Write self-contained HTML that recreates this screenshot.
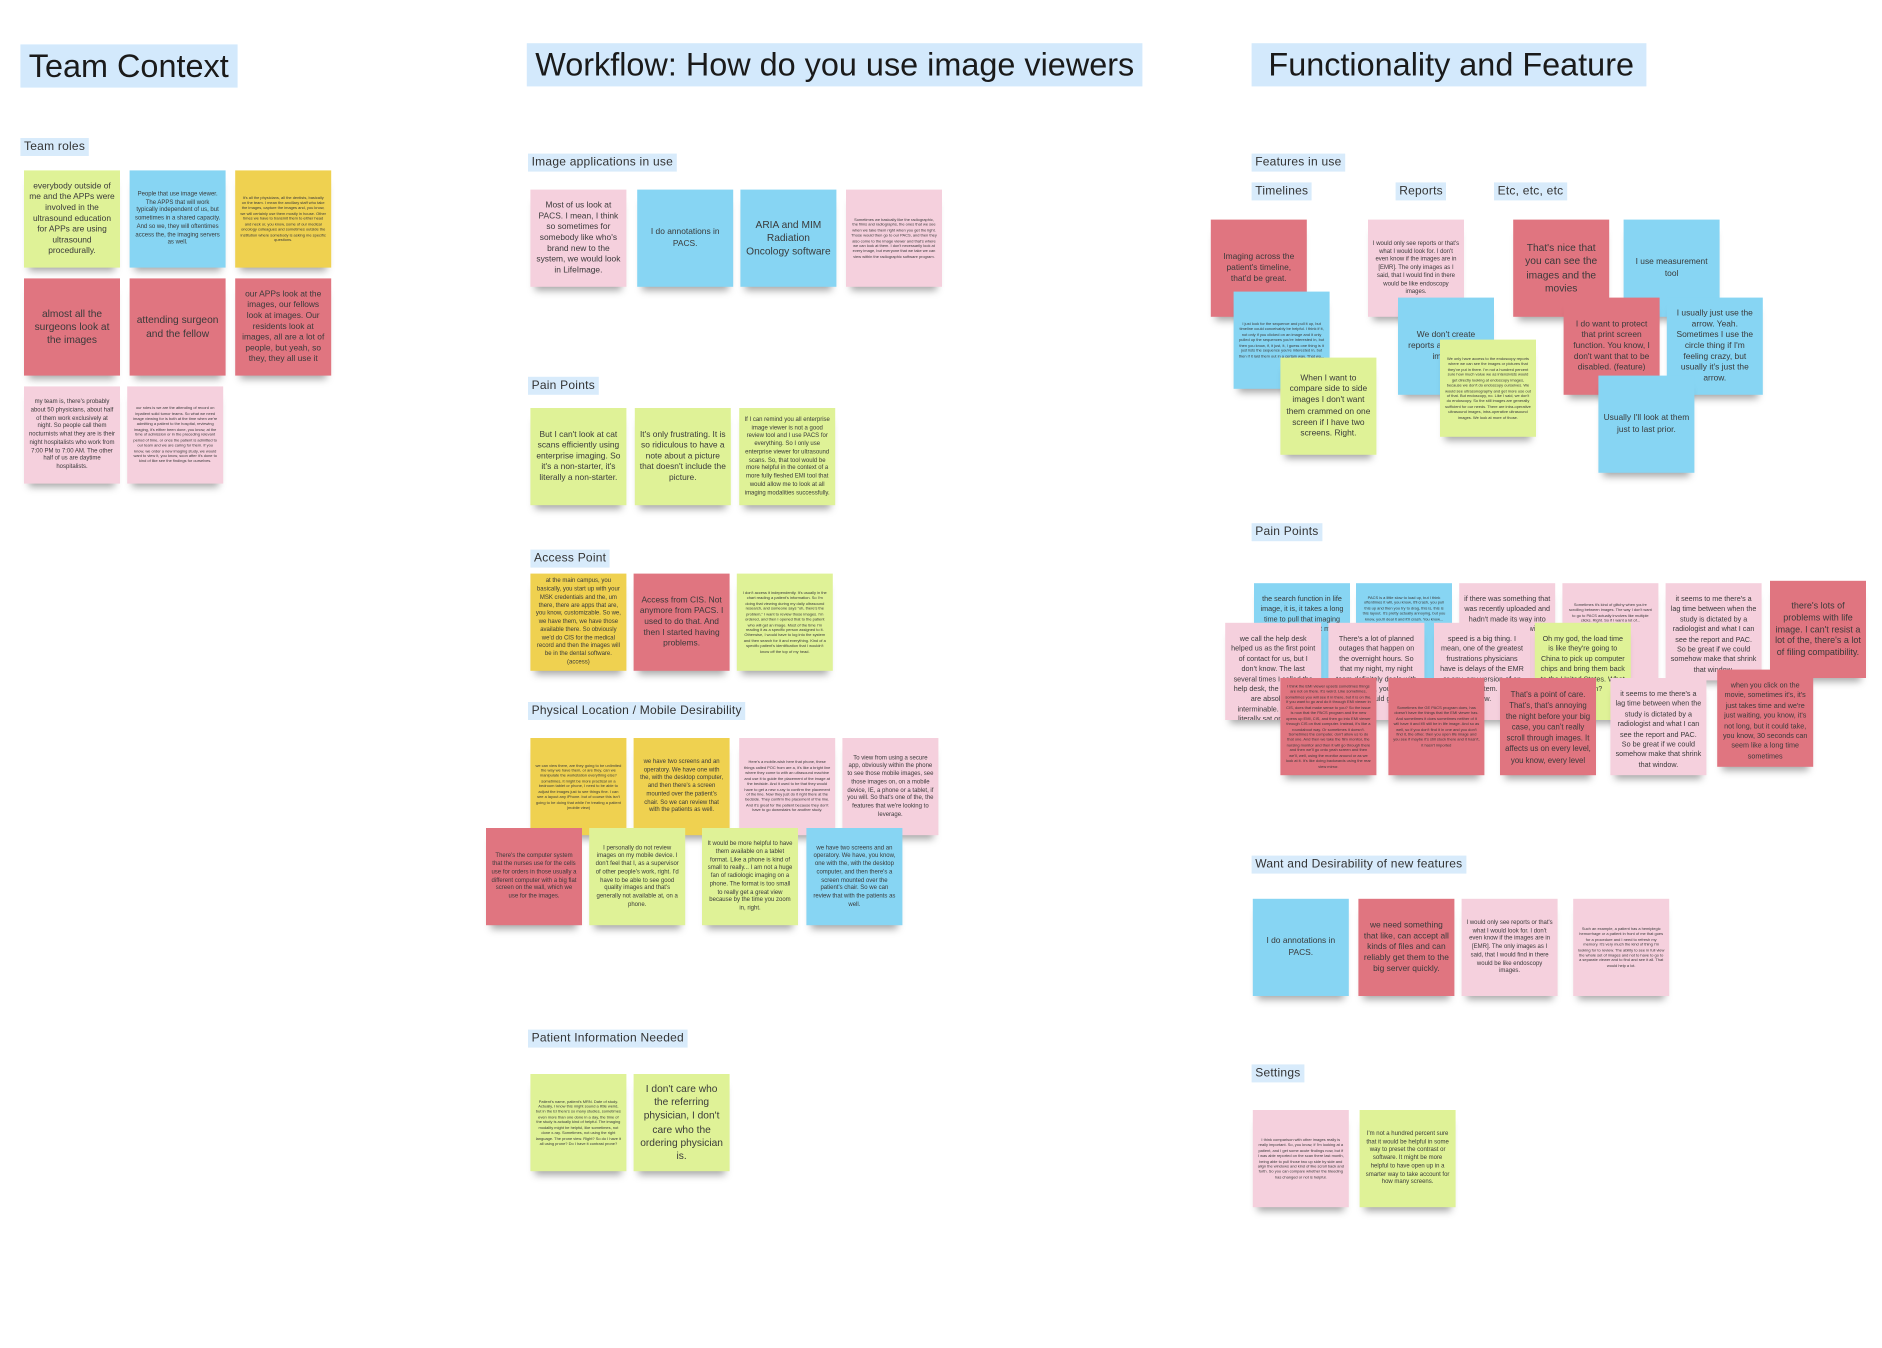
<!DOCTYPE html>
<html><head><meta charset="utf-8"><style>
html,body{margin:0;padding:0;background:#fff;width:1882px;height:1348px;overflow:hidden}
#w{position:absolute;left:0;top:0;width:1568px;height:1123px;transform:scale(1.2);transform-origin:0 0;font-family:"Liberation Sans","DejaVu Sans",sans-serif;color:#333}
.h{position:absolute;background:#d3e9fc;font-size:27px;color:#1a1a1a;padding:3px 7px;line-height:30px;white-space:nowrap}
.l{position:absolute;background:#d8ebfb;font-size:10px;letter-spacing:0.2px;color:#333;padding:1px 3px;line-height:13px;white-space:nowrap}
.n{position:absolute;width:80px;height:81px;display:flex;align-items:center;justify-content:center;text-align:center;font-size:7px;line-height:1.3;padding:4px;box-sizing:border-box;box-shadow:0 7px 6px -4px rgba(0,0,0,.35);overflow:hidden;color:#3a3a3a}
.t{font-size:3.3px;line-height:1.35}
.m{font-size:5px;line-height:1.35}
.b{font-size:8.5px;line-height:1.3}
.s{font-size:6px;line-height:1.4;align-items:flex-start;padding-top:10px}
.g{background:#dff297}.u{background:#87d5f3}.y{background:#efd150}.r{background:#e07580}.p{background:#f5d0dd}
</style></head><body><div id="w">
<div class="h" style="left:17px;top:37px">Team Context</div>
<div class="h" style="left:439px;top:36px">Workflow: How do you use image viewers</div>
<div class="h" style="left:1043px;top:36px;padding-left:14px;padding-right:10px">Functionality and Feature</div>

<div class="l" style="left:17px;top:115px">Team roles</div>
<div class="n g" style="left:20px;top:142px">everybody outside of me and the APPs were involved in the ultrasound education for APPs are using ultrasound procedurally.</div>
<div class="n u m" style="left:108px;top:142px">People that use image viewer. The APPS that will work typically independent of us, but sometimes in a shared capacity. And so we, they will oftentimes access the, the imaging servers as well.</div>
<div class="n y t" style="left:196px;top:142px">It's all the physicians, all the dentists, basically on the team. I mean the ancillary staff who take the images, capture the images and, you know, we will certainly use them mostly in house. Other times we have to transmit them to either head and neck or, you know, some of our medical oncology colleagues and sometimes outside the institution where somebody is asking me specific questions.</div>
<div class="n r b" style="left:20px;top:232px">almost all the surgeons look at the images</div>
<div class="n r b" style="left:108px;top:232px">attending surgeon and the fellow</div>
<div class="n r" style="left:196px;top:232px">our APPs look at the images, our fellows look at images. Our residents look at images, all are a lot of people, but yeah, so they, they all use it</div>
<div class="n p m" style="left:20px;top:322px">my team is, there's probably about 50 physicians, about half of them work exclusively at night. So people call them nocturnists what they are is their night hospitalists who work from 7:00 PM to 7:00 AM. The other half of us are daytime hospitalists.</div>
<div class="n p t" style="left:106px;top:322px">our roles is we are the attending of record on inpatient solid tumor teams. So what we need image viewing for is both at the time when we're admitting a patient to the hospital, reviewing imaging, it's either been done, you know, at the time of admission or in the preceding relevant period of time, or once the patient is admitted to our team and we are caring for them. If you know, we order a new imaging study, we would want to view it, you know, soon after it's done to kind of like see the findings for ourselves.</div>

<div class="l" style="left:440px;top:128px">Image applications in use</div>
<div class="n p" style="left:442px;top:158px">Most of us look at PACS. I mean, I think so sometimes for somebody like who's brand new to the system, we would look in LifeImage.</div>
<div class="n u" style="left:531px;top:158px">I do annotations in PACS.</div>
<div class="n u b" style="left:617px;top:158px">ARIA and MIM Radiation Oncology software</div>
<div class="n p t" style="left:705px;top:158px">Sometimes we basically like the radiographic, the films and radiographs, the ones that we see when we take them right when you get the light. Those would then go to our PACS, and then they also come to the image viewer and that's where we can look at them. I don't necessarily look at every image, but everyone that we take we can view within the radiographic software program.</div>

<div class="l" style="left:440px;top:314px">Pain Points</div>
<div class="n g" style="left:442px;top:340px">But I can't look at cat scans efficiently using enterprise imaging. So it's a non-starter, it's literally a non-starter.</div>
<div class="n g" style="left:529px;top:340px">It's only frustrating. It is so ridiculous to have a note about a picture that doesn't include the picture.</div>
<div class="n g m" style="left:616px;top:340px">If I can remind you all enterprise image viewer is not a good review tool and I use PACS for everything. So I only use enterprise viewer for ultrasound scans. So, that tool would be more helpful in the context of a more fully fleshed EMI tool that would allow me to look at all imaging modalities successfully.</div>

<div class="l" style="left:442px;top:458px">Access Point</div>
<div class="n y m" style="left:442px;top:478px">at the main campus, you basically, you start up with your MSK credentials and the, um there, there are apps that are, you know, customizable. So we, we have them, we have those available there. So obviously we'd do CIS for the medical record and then the images will be in the dental software. (access)</div>
<div class="n r" style="left:528px;top:478px">Access from CIS. Not anymore from PACS. I used to do that. And then I started having problems.</div>
<div class="n g t" style="left:614px;top:478px">I don't access it independently. It's usually in the chart reading a patient's information. So I'm doing that viewing during my daily ultrasound research, and someone says "oh, there's the problem," I want to review those images. I'm ordered, and then I opened that to the patient who will get an image. Most of the time I'm reading it as a specific person assigned to it. Otherwise, I would have to log into the system and then search for it and everything. Kind of a specific patient's identification that I wouldn't know off the top of my head.</div>

<div class="l" style="left:440px;top:585px">Physical Location / Mobile Desirability</div>
<div class="n y t" style="left:442px;top:615px">we can view there, are they going to be unlimited the way we have them, or are they, can we manipulate the workstation everything else? sometimes, it might be more practical on a bedroom tablet or phone, I need to be able to adjust the images just to see things fine. I can see a layout any iPhone. but of course this isn't going to be doing that while I'm treating a patient (mobile view)</div>
<div class="n y m" style="left:528px;top:615px">we have two screens and an operatory. We have one with the, with the desktop computer, and then there's a screen mounted over the patient's chair. So we can review that with the patients as well.</div>
<div class="n p t" style="left:616px;top:615px">Here's a mobile-wish here that phone, these things called POC from are a, it's like a bright line where they come to with an ultrasound machine and use it to guide the placement of the image at the bedside. And it used to be that they would have to get a new x-ray to confirm the placement of the line. Now they just do it right there at the bedside. They confirm the placement of the line. And it's great for the patient because they don't have to go downstairs for another study.</div>
<div class="n p m" style="left:702px;top:615px">To view from using a secure app, obviously within the phone to see those mobile images, see those images on, on a mobile device, IE, a phone or a tablet, if you will. So that's one of the, the features that we're looking to leverage.</div>
<div class="n r m" style="left:405px;top:690px">There's the computer system that the nurses use for the cells use for orders in those usually a different computer with a big flat screen on the wall, which we use for the images.</div>
<div class="n g m" style="left:491px;top:690px">I personally do not review images on my mobile device. I don't feel that I, as a supervisor of other people's work, right. I'd have to be able to see good quality images and that's generally not available at, on a phone.</div>
<div class="n g m" style="left:585px;top:690px">It would be more helpful to have them available on a tablet format. Like a phone is kind of small to really... I am not a huge fan of radiologic imaging on a phone. The format is too small to really get a great view because by the time you zoom in, right.</div>
<div class="n u m" style="left:672px;top:690px">we have two screens and an operatory. We have, you know, one with the, with the desktop computer, and then there's a screen mounted over the patient's chair. So we can review that with the patients as well.</div>

<div class="l" style="left:440px;top:858px">Patient Information Needed</div>
<div class="n g t" style="left:442px;top:895px">Patient's name, patient's MRN. Date of study. Actually, I know this might sound a little weird, but in the EI there's so many studies, sometimes even more than one done in a day, the time of the study is actually kind of helpful. The imaging modality might be helpful, like sometimes, not done x-ray. Sometimes, not using the right language. The prone view. Right? So do I have it all using prone? Do I have it contrast prone?</div>
<div class="n g b" style="left:528px;top:895px">I don't care who the referring physician, I don't care who the ordering physician is.</div>

<div class="l" style="left:1043px;top:128px">Features in use</div>
<div class="l" style="left:1043px;top:152px">Timelines</div>
<div class="l" style="left:1163px;top:152px">Reports</div>
<div class="l" style="left:1245px;top:152px">Etc, etc, etc</div>
<div class="n r" style="left:1009px;top:183px">Imaging across the patient's timeline, that'd be great.</div>
<div class="n p m" style="left:1140px;top:183px">I would only see reports or that's what I would look for. I don't even know if the images are in [EMR]. The only images as I said, that I would find in there would be like endoscopy images.</div>
<div class="n r b" style="left:1261px;top:183px">That's nice that you can see the images and the movies</div>
<div class="n u" style="left:1353px;top:183px">I use measurement tool</div>
<div class="n u t" style="left:1028px;top:243px">I just look for the sequence and pull it up, but timeline could conceivably be helpful. I think if it, not only if you clicked on an image and it only pulled up the sequences you're interested in, but then you know, if, it just, it, I guess one thing is it just lists the sequence you're interested in, but then if it laid them out in a certain way. That wo...</div>
<div class="n u" style="left:1165px;top:248px">We don't create reports after reading images</div>
<div class="n r" style="left:1303px;top:248px">I do want to protect that print screen function. You know, I don't want that to be disabled. (feature)</div>
<div class="n u" style="left:1389px;top:248px">I usually just use the arrow. Yeah. Sometimes I use the circle thing if I'm feeling crazy, but usually it's just the arrow.</div>
<div class="n g t" style="left:1200px;top:283px">We only have access to the endoscopy reports where we can see the images or pictures that they've put in there. I'm not a hundred percent sure how much value we as intensivists would get directly looking at endoscopy images, because we don't do endoscopy ourselves. We would see ultrasonography and get more use out of that. But endoscopy, no. Like I said, we don't do endoscopy. So the still images are generally sufficient for our needs. There are intra-operative ultrasound images, intra-operative ultrasound images. We look at more of those.</div>
<div class="n g" style="left:1067px;top:298px">When I want to compare side to side images I don't want them crammed on one screen if I have two screens. Right.</div>
<div class="n u" style="left:1332px;top:313px">Usually I'll look at them just to last prior.</div>

<div class="l" style="left:1043px;top:436px">Pain Points</div>
<div class="n u s" style="left:1045px;top:486px">the search function in life image, it is, it takes a long time to pull that imaging up, and you've got more of...</div>
<div class="n u t" style="left:1130px;top:486px;align-items:flex-start;padding-top:10px">PACS is a little slow to load up, but I think oftentimes it will, you know, it'll crash, you pull this up and then you try to drag, this is, this is this layout. It's pretty actually annoying, but you know, you'll deal it and it'll crash. You know...</div>
<div class="n p s" style="left:1216px;top:486px">if there was something that was recently uploaded and hadn't made its way into PACS yet, and I will confess...</div>
<div class="n p t" style="left:1302px;top:486px;align-items:flex-start;padding-top:16px">Sometimes it's kind of glitchy when you're scrolling between images. The way I don't want to go to PACS actually involves like multiple clicks. Right. So if I want a lot of...</div>
<div class="n p s" style="left:1388px;top:486px">it seems to me there's a lag time between when the study is dictated by a radiologist and what I can see the report and PAC. So be great if we could somehow make that shrink that window.</div>
<div class="n r" style="left:1475px;top:484px;font-size:7.5px">there's lots of problems with life image. I can't resist a lot of the, there's a lot of filing compatibility.</div>
<div class="n p s" style="left:1021px;top:519px">we call the help desk helped us as the first point of contact for us, but I don't know. The last several times I called the help desk, the wait times are absolutely interminable. I mean, I literally sat on hold for hours with the help desk multiple times.</div>
<div class="n p s" style="left:1107px;top:519px">There's a lot of planned outages that happen on the overnight hours. So that my night, my night team definitely deals with that where, you know, hours could go by.</div>
<div class="n p s" style="left:1195px;top:519px">speed is a big thing. I mean, one of the greatest frustrations physicians have is delays of the EMR or any, any version of an electronic system. So, you know.</div>
<div class="n g s" style="left:1279px;top:519px">Oh my god, the load time is like they're going to China to pick up computer chips and bring them back to the United States. What is going on?</div>
<div class="n r t" style="left:1067px;top:565px">I think the EMI viewer upsets sometimes things are not on there. It's weird. Like sometimes, sometimes you will see it in there, but it is on the. If you want to go and do it through EMI viewer in CIS, does that make sense to you? So the issue is now that the PACS program and the new opens up EMI, CIS, and then go into EMI viewer through CIS on that computer. Instead, it's like a roundabout way. Or sometimes it doesn't. Sometimes the computer, don't allow us to do that one. And then we take the film monitor, the nursing monitor and then it will go through there and then we'll go onto yeah screen and then we'll, well, using the monitor around or as we look at it. It's like doing backwards using the rear view mirror.</div>
<div class="n r t" style="left:1157px;top:565px">Sometimes the GE PACS program does, has doesn't have the things that the EMI viewer has. And sometimes it does sometimes neither of it will have it and it'll still be in life image. And so as well, so if you don't find it in one and you don't find it, the other, then you open life image and you see if maybe it's still stuck there and it hasn't, it hasn't imported</div>
<div class="n r s" style="left:1250px;top:565px;font-size:6.5px">That's a point of care. That's, that's annoying the night before your big case, you can't really scroll through images. It affects us on every level, you know, every level</div>
<div class="n p s" style="left:1342px;top:565px">it seems to me there's a lag time between when the study is dictated by a radiologist and what I can see the report and PAC. So be great if we could somehow make that shrink that window.</div>
<div class="n r s" style="left:1431px;top:558px">when you click on the movie, sometimes it's, it's just takes time and we're just waiting, you know, it's not long, but it could take, you know, 30 seconds can seem like a long time sometimes</div>

<div class="l" style="left:1043px;top:713px">Want and Desirability of new features</div>
<div class="n u" style="left:1044px;top:749px">I do annotations in PACS.</div>
<div class="n r" style="left:1132px;top:749px">we need something that like, can accept all kinds of files and can reliably get them to the big server quickly.</div>
<div class="n p m" style="left:1218px;top:749px">I would only see reports or that's what I would look for. I don't even know if the images are in [EMR]. The only images as I said, that I would find in there would be like endoscopy images.</div>
<div class="n p t" style="left:1311px;top:749px">Such an example, a patient has a hemiplegic hemorrhage or a patient in front of me that goes for a procedure and I need to refresh my memory. It's very much the kind of thing I'm looking for to review. The ability to see in full view the whole set of images and not to have to go to a separate viewer and to find and see it all. That would help a lot.</div>

<div class="l" style="left:1043px;top:887px">Settings</div>
<div class="n p t" style="left:1044px;top:925px">I think comparison with other images really is really important. So, you know, if I'm looking at a patient, and I get some acute findings now, but if I was able reported on the scan there last month, being able to pull those two up side by side and align the windows and kind of like scroll back and forth. So you can compare whether the bleeding has changed or not is helpful.</div>
<div class="n g m" style="left:1133px;top:925px">I'm not a hundred percent sure that it would be helpful in some way to preset the contrast or software. It might be more helpful to have open up in a smarter way to take account for how many screens.</div>
</div></body></html>
